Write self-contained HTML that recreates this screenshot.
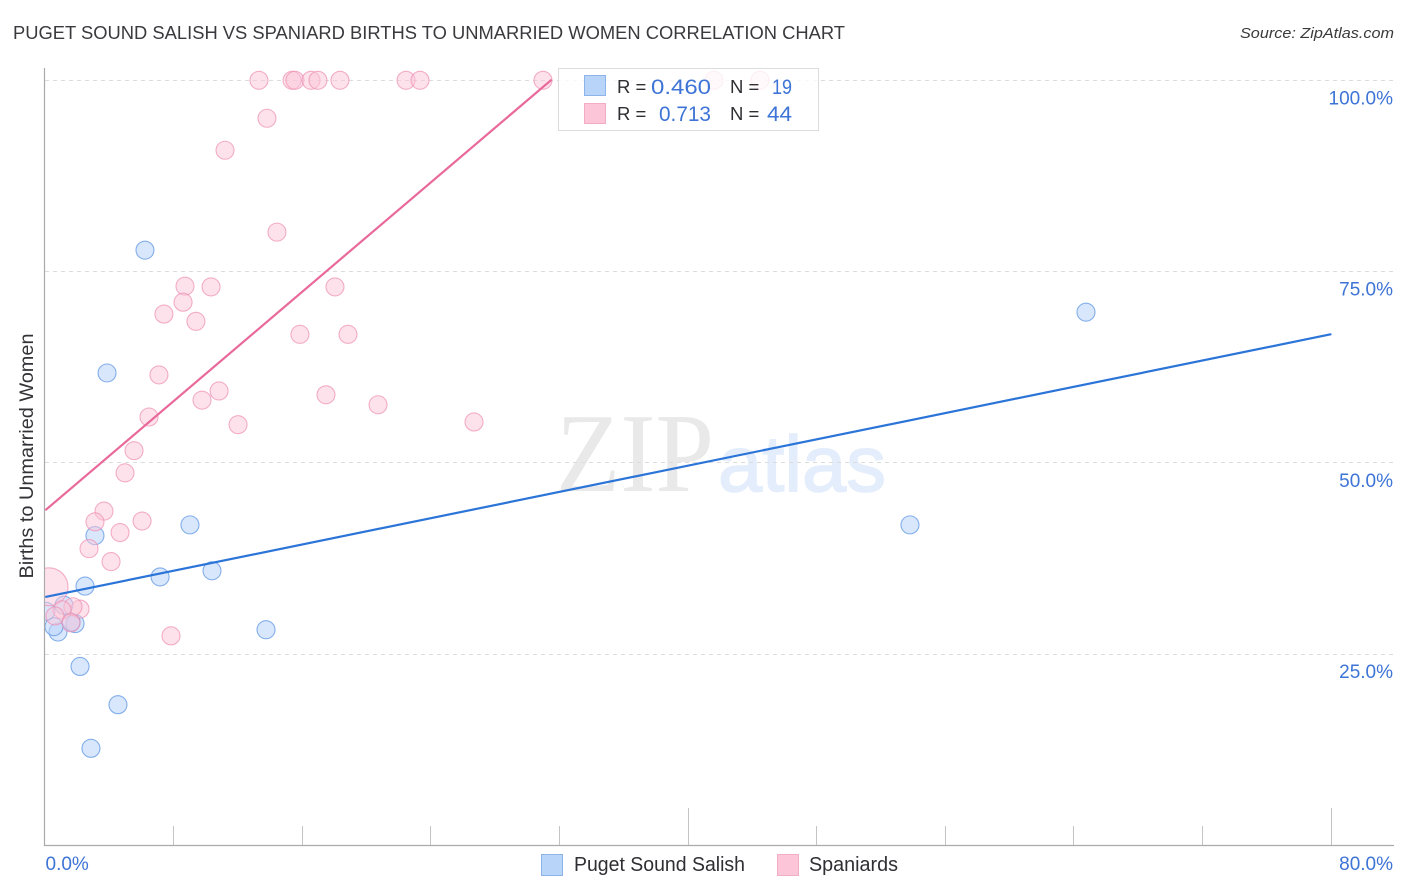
<!DOCTYPE html>
<html lang="en">
<head>
<meta charset="utf-8">
<title>Puget Sound Salish vs Spaniard Births to Unmarried Women Correlation Chart</title>
<style>
html,body{margin:0;padding:0;background:#fff;}
svg{display:block;font-family:"Liberation Sans",sans-serif;}
</style>
</head>
<body>
<svg id="chart" width="1406" height="892" viewBox="0 0 1406 892" xmlns="http://www.w3.org/2000/svg">
  <defs><clipPath id="plot-clip"><rect x="45" y="60" width="1349" height="786"/></clipPath></defs>
  <text x="13" y="39" font-size="18.6" fill="#3a3a3e" textLength="832" lengthAdjust="spacingAndGlyphs">PUGET SOUND SALISH VS SPANIARD BIRTHS TO UNMARRIED WOMEN CORRELATION CHART</text>
  <text x="1394" y="38" font-size="15" font-style="italic" fill="#3a3a3a" text-anchor="end" textLength="154" lengthAdjust="spacingAndGlyphs">Source: ZipAtlas.com</text>
  <g>
    <text x="556" y="491" style="font-family:'Liberation Serif',serif" font-size="112" fill="#e9e9e9" textLength="158" lengthAdjust="spacingAndGlyphs">ZIP</text>
    <text x="718" y="491" style="font-family:'Liberation Sans',Arial,sans-serif" font-size="79" fill="#e3edfb" stroke="#e3edfb" stroke-width="1.5" textLength="168" lengthAdjust="spacingAndGlyphs">atlas</text>
  </g>
  <g id="grid"></g>
  <g id="axes"></g>
  <g id="points-blue" clip-path="url(#plot-clip)"></g>
  <g id="points-pink" clip-path="url(#plot-clip)"></g>
  <g id="lines"></g>
  <text transform="translate(33,456) rotate(-90)" font-size="19.5" fill="#333337" text-anchor="middle" textLength="245" lengthAdjust="spacingAndGlyphs">Births to Unmarried Women</text>
  <g>
    <rect x="558.5" y="68.5" width="260" height="62" fill="#fff" fill-opacity="0.8" stroke="#dcdcdc"/>
    <rect x="584.5" y="75.5" width="21" height="20" fill="#b9d4f9" stroke="#8db4ea"/>
    <rect x="584.5" y="103.5" width="21" height="20" fill="#fcc5d8" stroke="#f3acc5"/>
    <text x="617" y="93" font-size="18.5" fill="#2f2f33">R =</text>
    <text x="651" y="94" font-size="21.5" fill="#3d74d6" textLength="60" lengthAdjust="spacingAndGlyphs">0.460</text>
    <text x="730" y="93" font-size="18.5" fill="#2f2f33">N =</text>
    <text x="772" y="94" font-size="21.5" fill="#3d74d6" textLength="20" lengthAdjust="spacingAndGlyphs">19</text>
    <text x="617" y="120" font-size="18.5" fill="#2f2f33">R =</text>
    <text x="659" y="121" font-size="21.5" fill="#3d74d6" textLength="52" lengthAdjust="spacingAndGlyphs">0.713</text>
    <text x="730" y="120" font-size="18.5" fill="#2f2f33">N =</text>
    <text x="767" y="121" font-size="21.5" fill="#3d74d6" textLength="25" lengthAdjust="spacingAndGlyphs">44</text>
  </g>
  <g>
    <rect x="541.5" y="854.5" width="21" height="21" fill="#b9d4f9" stroke="#8db4ea"/>
    <text x="574" y="871" font-size="20" fill="#2f2f33" textLength="171" lengthAdjust="spacingAndGlyphs">Puget Sound Salish</text>
    <rect x="777.5" y="854.5" width="21" height="21" fill="#fcc5d8" stroke="#f3acc5"/>
    <text x="809" y="871" font-size="20" fill="#2f2f33" textLength="89" lengthAdjust="spacingAndGlyphs">Spaniards</text>
  </g>
</svg>
<script>
const yTicks = [100, 75, 50, 25];
const yTickLabels = ["100.0%", "75.0%", "50.0%", "25.0%"];
const xTicks = [0, 8, 16, 24, 32, 40, 48, 56, 64, 72, 80];
const xMajorTicks = [40, 80];
const xEndTicks = [0, 80];
const xEndLabels = ["0.0%", "80.0%"];

const salishX = [6.25, 3.89, 64.79, 9.05, 53.84, 3.14, 2.52, 7.19, 10.42, 13.78, 0.84, 1.9, 1.65, 2.21, 4.57, 2.89, 0.59, 0.09, 1.21];
const salishY = [77.8, 61.75, 69.7, 41.9, 41.9, 40.5, 33.9, 35.1, 35.9, 28.2, 27.9, 29.0, 29.2, 23.4, 18.4, 12.7, 28.6, 30.6, 31.4];

const spaniardsX = [13.34, 15.4, 15.58, 16.58, 17.01, 18.38, 22.49, 23.36, 31.01, 41.65, 44.51, 13.84, 11.23, 14.46, 8.74, 10.36, 18.07, 8.62, 7.43, 9.42, 15.89, 18.88, 7.12, 10.86, 9.8, 17.51, 20.75, 6.5, 12.04, 26.72, 5.57, 5.01, 3.7, 3.14, 6.07, 4.7, 2.77, 4.14, 0.28, 2.21, 1.77, 1.09, 0.65, 7.87, 1.65];
const spaniardsY = [100, 100, 100, 100, 100, 100, 100, 100, 100, 100, 100, 95.04, 90.86, 80.16, 73.1, 73.0, 73.0, 71.0, 69.45, 68.5, 66.8, 66.8, 61.5, 59.4, 58.2, 58.9, 57.6, 56.0, 55.0, 55.35, 51.6, 48.7, 43.7, 42.3, 42.4, 40.9, 38.8, 37.1, 33.8, 30.9, 31.2, 30.8, 30.0, 27.4, 29.1];
const spaniardsLargeIndex = 38;

const salishTrendX = [0.1, 80];
const salishTrendY = [32.5, 66.8];
const spaniardsTrendX = [0.1, 31.5];
const spaniardsTrendY = [43.9, 100];

function xScale(v) { return 44.5 + v * 16.075; }
function yScale(v) { return 845.5 - v * 7.652; }

const NS = "http://www.w3.org/2000/svg";
function make(tag, attrs, parent) {
  const el = document.createElementNS(NS, tag);
  for (const k in attrs) el.setAttribute(k, attrs[k]);
  parent.appendChild(el);
  return el;
}

const grid = document.getElementById("grid");
const axes = document.getElementById("axes");
const blue = document.getElementById("points-blue");
const pink = document.getElementById("points-pink");
const lines = document.getElementById("lines");

yTicks.forEach(function (t, i) {
  const y = Math.floor(yScale(t)) + 0.5;
  const line = make("line", {x1: 45, x2: 1394, y1: y, y2: y, stroke: "#dcdcdc", "stroke-width": 1, "stroke-dasharray": "4 4"}, grid);
  
  
  const label = make("text", {x: 1393, y: yScale(t) + 24, "font-size": 19, fill: "#3d74d6", "text-anchor": "end"}, axes);
  label.textContent = yTickLabels[i];
  
  
});

xTicks.forEach(function (t) {
  const x = Math.round(xScale(t)) + 0.5;
  if (t === 0) return;
  const top = xMajorTicks.indexOf(t) >= 0 ? 808 : 826;
  const tick = make("line", {x1: x, x2: x, y1: top, y2: 846, stroke: "#c4c4c4", "stroke-width": 1}, axes);
  
  
});

const yAxis = make("line", {x1: 44.5, x2: 44.5, y1: 68, y2: 846, stroke: "#aaaaaa", "stroke-width": 1.2}, axes);


const xAxis = make("line", {x1: 44, x2: 1394, y1: 845.5, y2: 845.5, stroke: "#aaaaaa", "stroke-width": 1.2}, axes);



xEndTicks.forEach(function (t, i) {
  const label = make("text", {x: i === 0 ? xScale(t) + 1 : 1393, y: 870, "font-size": 19, fill: "#3d74d6", "text-anchor": i === 0 ? "start" : "end"}, axes);
  label.textContent = xEndLabels[i];
  
  
});

salishX.forEach(function (v, i) {
  const c = make("circle", {cx: xScale(v), cy: yScale(salishY[i]), r: 9, fill: "#b9d4f9", "fill-opacity": 0.55, stroke: "#5f97e4", "stroke-opacity": 0.75, "stroke-width": 1.1}, blue);
  
  
});

spaniardsX.forEach(function (v, i) {
  const r = i === spaniardsLargeIndex ? 19 : 9;
  const c = make("circle", {cx: xScale(v), cy: yScale(spaniardsY[i]), r: r, fill: "#fcc5d8", "fill-opacity": 0.5, stroke: "#ee8fb2", "stroke-opacity": 0.7, "stroke-width": 1.1}, pink);
  
  
});

const trendBlue = make("line", {x1: xScale(salishTrendX[0]), y1: yScale(salishTrendY[0]), x2: xScale(salishTrendX[1]), y2: yScale(salishTrendY[1]), stroke: "#2b74d8", "stroke-width": 2.2, "stroke-linecap": "round"}, lines);


const trendPink = make("line", {x1: xScale(spaniardsTrendX[0]), y1: yScale(spaniardsTrendY[0]), x2: xScale(spaniardsTrendX[1]), y2: yScale(spaniardsTrendY[1]), stroke: "#e8699a", "stroke-width": 2.2, "stroke-linecap": "round"}, lines);


</script>
</body>
</html>
